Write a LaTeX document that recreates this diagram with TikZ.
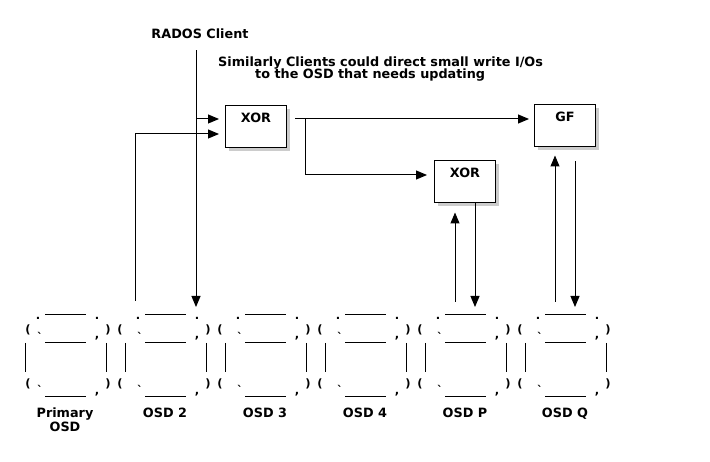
\documentclass[tikz,border=0pt]{standalone}
\usepackage{fontspec}
\setmainfont{DejaVu Sans}
\newfontfamily\glyphfont{DejaVu Sans}[Ligatures=TeXOff]
\usetikzlibrary{arrows.meta, shadows, calc}
\tikzset{
    >={Triangle[length=11pt, width=9pt]},
    flow/.style={->, line width=1pt},
    unit/.style={draw, fill=white, line width=1pt, minimum width=61pt, minimum height=42pt,
        inner sep=0pt, text height=17pt, text depth=25pt, font=\labelfont,
        drop shadow={shadow xshift=3pt, shadow yshift=-3pt, opacity=0.4}},
    caption/.style={inner sep=0pt, font=\labelfont},
    osdlabel/.style={caption, anchor=north, align=center},
    rim/.style={line width=1pt},
    glyph/.style={inner sep=0pt, font=\glyphfont\bfseries\fontsize{11.5}{11.5}\selectfont},
}
\newcommand{\labelfont}{\bfseries\fontsize{12.8}{12}\selectfont}

\begin{document}
\begin{tikzpicture}[x=1pt, y=-1pt]
    \useasboundingbox (0,0) rectangle (710,462);
    % texts and boxes
    \node[caption] (rados) at (200,34) {RADOS Client};
    \node[caption, anchor=base west] (note1) at (218,67) {Similarly Clients could direct small write I/Os};
    \node[caption, anchor=base west] (note2) at (255,79) {to the OSD that needs updating};
    \node[unit] (xor1) at (256,127) {XOR};
    \node[unit] (gf) at (565,126) {GF};
    \node[unit] (xor2) at (465,182) {XOR};
    % the six OSD drums
    \foreach \k [evaluate=\k as \lx using {\k==0 ? 28 : 20}] in {0,...,5} {
        \begin{scope}[xshift=\k*100pt]
            \draw[rim] (45,315) -- (86,315) (45,343) -- (86,343) (45,397) -- (86,397)
                (25,343) -- (25,372) (106,343) -- (106,372);
            \node[glyph] (tl\k) at (38,318) {.};
            \node[glyph] (tr\k) at (97,318) {.};
            \node[glyph] (ul\k) at (\lx,330) {(};
            \node[glyph] (ll\k) at (\lx,384) {(};
            \node[glyph] (ur\k) at (108,330) {)};
            \node[glyph] (lr\k) at (108,384) {)};
            \node[glyph] (ug\k) at (40,337) {`};
            \node[glyph] (lg\k) at (40,390) {`};
            \node[glyph] (uc\k) at (97,338) {,};
            \node[glyph] (lc\k) at (97,394) {,};
        \end{scope}
    }
    \node[osdlabel] (lab0) at (65,408) {Primary\\OSD};
    \foreach \k/\t in {1/OSD 2, 2/OSD 3, 3/OSD 4, 4/OSD P, 5/OSD Q}
        \node[osdlabel] (lab\k) at (\k*100+65,408) {\t};
    % ports on top of the drums
    \coordinate (o2up) at (135,301);
    \coordinate (o2dn) at (196,307);
    \coordinate (oPup) at (455,302);
    \coordinate (oPdn) at (475,307);
    \coordinate (oQup) at (555,302);
    \coordinate (oQdn) at (575,307);
    \coordinate (xin1) at ([yshift=8pt]xor1.west);
    \coordinate (xin2) at ([yshift=-7pt]xor1.west);
    \coordinate (xout) at (xin1 -| xor1.east);
    \coordinate (fork) at ($(xout)+(18,0)$);
    % connectors
    \draw[line width=1pt] ([yshift=-11pt]rados.south -| o2dn) -- (o2dn |- xin1);
    \draw[flow] (o2dn |- xin1) -- (o2dn);
    \draw[flow, shorten >=6pt] (o2dn |- xin1) -- (xin1);
    \draw[flow, shorten >=6pt] (o2up) |- (xin2);
    \draw[flow, shorten <=8pt, shorten >=5pt] (xout) -- (xout -| gf.west);
    \draw[flow, shorten >=7pt] (fork) |- ([yshift=7pt]xor2.west);
    \draw[flow, shorten >=9pt] (oPup) -- (oPup |- xor2.south);
    \draw[flow] (xor2.south -| oPdn) -- (oPdn);
    \draw[flow, shorten >=8pt] (oQup) -- (oQup |- gf.south);
    \draw[flow, shorten <=14pt] (gf.south -| oQdn) -- (oQdn);
\end{tikzpicture}
\end{document}
